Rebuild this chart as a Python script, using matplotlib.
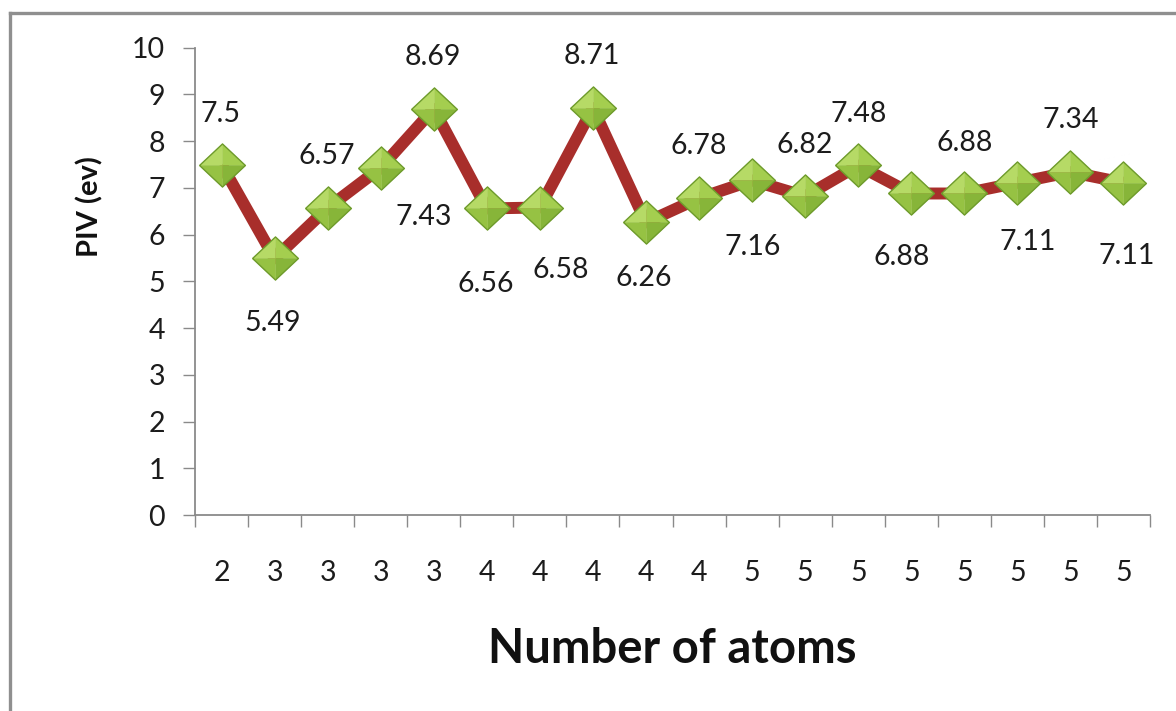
import matplotlib
matplotlib.use("Agg")
import matplotlib.pyplot as plt
from matplotlib.path import Path
from matplotlib.lines import Line2D

# --- data -------------------------------------------------------------
atom_counts = ['2', '3', '3', '3', '3', '4', '4', '4', '4', '4',
               '5', '5', '5', '5', '5', '5', '5', '5']
piv_values = [7.5, 5.49, 6.57, 7.43, 8.69, 6.56, 6.58, 8.71, 6.26,
              6.78, 7.16, 6.82, 7.48, 6.88, 6.88, 7.11, 7.34, 7.11]
y_ticks = list(range(0, 11))

# data-label placement (pixel offsets of each label centre from its point)
label_offsets = [(-1, 53), (-2, -62), (-1, 54), (43, -47), (-1, 54.5),
                 (-1, -73), (21, -60), (-1, 54), (-2, -53), (0, 54.5),
                 (1, -64.6), (0, 54), (0, 54), (-10, -61.5), (0, 52.5),
                 (10, -57), (0, 54.5), (3, -71)]

FONT = ['Lato', 'DejaVu Sans']
W, H, DPI = 1176, 711, 100

fig = plt.figure(figsize=(W / DPI, H / DPI), dpi=DPI)
fig.patch.set_facecolor('white')

# chart frame (left and top edges)
frame_col = '#8f8f8f'
fig.add_artist(Line2D([9.5 / W, 9.5 / W], [0, 1 - 12.5 / H], transform=fig.transFigure,
                      color=frame_col, lw=2.4, solid_capstyle='projecting'))
fig.add_artist(Line2D([9.5 / W, 1], [1 - 12.5 / H, 1 - 12.5 / H], transform=fig.transFigure,
                      color=frame_col, lw=2.4, solid_capstyle='projecting'))

ax_l, ax_r, ax_t, ax_b = 195, 1150, 47.7, 515
ax = fig.add_axes([ax_l / W, 1 - ax_b / H, (ax_r - ax_l) / W, (ax_b - ax_t) / H])
ax.set_facecolor('none')

x = list(range(len(piv_values)))

# connecting line
ax.plot(x, piv_values, color='#A82E2B', lw=8.6, solid_joinstyle='round',
        solid_capstyle='butt', zorder=3)

# bevelled diamond markers built from four facets
hy = 0.94
facets = [
    ([(0, 0), (-1, 0), (0, hy), (0, 0)], '#B6DA66'),   # upper left
    ([(0, 0), (0, hy), (1, 0), (0, 0)], '#A4CE4F'),    # upper right
    ([(0, 0), (1, 0), (0, -hy), (0, 0)], '#87B539'),   # lower right
    ([(0, 0), (0, -hy), (-1, 0), (0, 0)], '#96C243'),  # lower left
]
ms = 33
for verts, col in facets:
    ax.plot(x, piv_values, ls='none', marker=Path(verts), ms=ms, mfc=col,
            mec=col, mew=0.3, zorder=4)
outline = Path([(-1, 0), (0, hy), (1, 0), (0, -hy), (-1, 0)])
ax.plot(x, piv_values, ls='none', marker=outline, ms=ms, mfc='none',
        mec='#6E9B2C', mew=1.0, zorder=5)

# data labels
lab_fs = 20.5
cap_px = 0.7165 * lab_fs * DPI / 72
for xi, v, (dx, dy) in zip(x, piv_values, label_offsets):
    ax.annotate(f'{v:g}', (xi, v), xytext=(dx, dy - cap_px / 2),
                textcoords='offset pixels', ha='center', va='baseline',
                fontsize=lab_fs, family=FONT, color='#1c1c1c', zorder=6)

# axes styling
ax.set_xlim(-0.5, len(piv_values) - 0.5)
ax.set_ylim(0, 10)
for side in ('top', 'right'):
    ax.spines[side].set_visible(False)
axis_col = '#8a8a8a'
for side in ('left', 'bottom'):
    ax.spines[side].set_color(axis_col)
    ax.spines[side].set_linewidth(1.3)

ax.set_yticks(y_ticks)
ax.set_yticklabels([str(t) for t in y_ticks], family=FONT, fontsize=20.5, color='#1c1c1c')
ax.tick_params(axis='y', direction='out', length=8.6, width=1.0, color=axis_col, pad=13)

ax.set_xticks(x)
ax.set_xticklabels(atom_counts, family=FONT, fontsize=20.5, color='#1c1c1c')
ax.set_xticks([i - 0.5 for i in range(len(piv_values) + 1)], minor=True)
ax.tick_params(axis='x', which='major', length=0, pad=8.6 + 23.5)
ax.tick_params(axis='x', which='minor', direction='out', length=8.6, width=1.0,
               color=axis_col)

# axis titles
fig.text((ax_l + ax_r) / 2 / W, 1 - 663 / H, 'Number of atoms', ha='center',
         va='baseline', fontsize=34, fontweight='bold', family=FONT, color='#111111')
fig.text(90 / W, 1 - 207 / H, 'PIV (ev)', ha='center', va='center', rotation=90,
         fontsize=21, fontweight='bold', family=FONT, color='#111111')

fig.savefig('out.png', dpi=DPI, facecolor='white')
